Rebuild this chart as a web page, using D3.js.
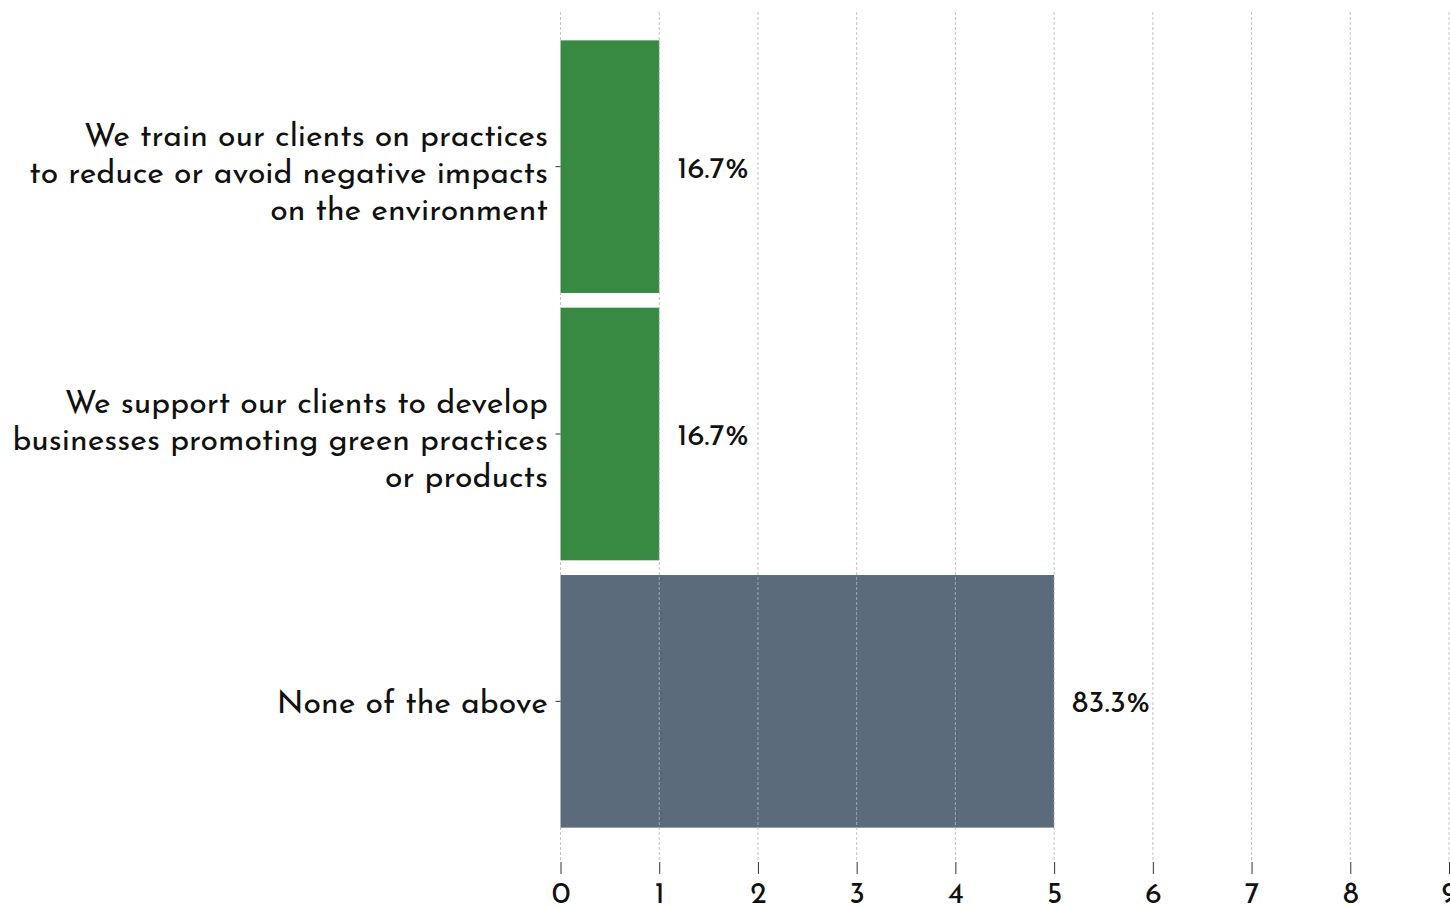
<!DOCTYPE html>
<html>
<head>
<meta charset="utf-8">
<script src="https://cdn.jsdelivr.net/npm/d3@7"></script>
<style>
  body { margin: 0; background: #fff; }
  svg { display: block; font-family: "Josefin Sans", Lato, "Noto Sans", sans-serif; }
</style>
</head>
<body>
<svg id="chart" width="1450" height="907"></svg>
<script>
// Survey answers: how respondents support clients on environmental practices
const categories = [
  ["We train our clients on practices", "to reduce or avoid negative impacts", "on the environment"],
  ["We support our clients to develop", "businesses promoting green practices", "or products"],
  ["None of the above"]
];
const counts = [1, 1, 5];
const percentLabels = ["16.7%", "16.7%", "83.3%"];
const barColors = ["#388a42", "#388a42", "#5c6b7c"];
const xTicks = [0, 1, 2, 3, 4, 5, 6, 7, 8, 9];

const svg = d3.select("#chart");
const ids = categories.map((_, i) => i);

const x = d3.scaleLinear().domain([0, 9]).range([560.5, 1449]);
const y = d3.scaleBand().domain(ids).range([33, 835]).paddingInner(0.055).paddingOuter(0.0275);
const axisY = 862;

// Bars
svg.append("g").selectAll("rect").data(ids).join("rect")
  .attr("x", x(0))
  .attr("y", i => y(i))
  .attr("width", i => x(counts[i]) - x(0))
  .attr("height", y.bandwidth())
  .attr("fill", i => barColors[i]);

// Vertical dashed gridlines, drawn above the bars
svg.append("g").selectAll("line").data(xTicks).join("line")
  .attr("x1", d => x(d)).attr("x2", d => x(d))
  .attr("y1", 12).attr("y2", axisY)
  .attr("stroke", "#b5b5b5")
  .attr("stroke-opacity", 0.8)
  .attr("stroke-width", 1)
  .attr("stroke-dasharray", "3,2");

// X axis
const xAxis = svg.append("g").attr("transform", `translate(0,${axisY})`)
  .call(d3.axisBottom(x).tickValues(xTicks).tickSize(12).tickPadding(8));
xAxis.select(".domain").remove();
xAxis.selectAll(".tick line").attr("stroke", "#333");
xAxis.selectAll(".tick text").attr("font-size", 30).attr("fill", "#111")
  .attr("font-family", "\"Josefin Sans\", Lato, \"Noto Sans\", sans-serif");

// Y axis tick marks
svg.append("g").selectAll("line").data(ids).join("line")
  .attr("x1", x(0) - 5).attr("x2", x(0))
  .attr("y1", i => y(i) + y.bandwidth() / 2)
  .attr("y2", i => y(i) + y.bandwidth() / 2)
  .attr("stroke", "#333");

// Category labels, multi-line, right-aligned
const lineH = 37;
svg.append("g").selectAll("text").data(ids).join("text")
  .attr("text-anchor", "end")
  .attr("font-size", 32)
  .attr("fill", "#111")
  .each(function(i) {
    const lines = categories[i];
    const shift = lines.length > 1 ? 5 : 0;
    const cy = y(i) + y.bandwidth() / 2 + shift;
    const t = d3.select(this);
    lines.forEach((ln, k) => {
      t.append("tspan")
        .attr("x", 548)
        .attr("y", cy + (k - (lines.length - 1) / 2) * lineH)
        .attr("dy", "0.35em")
        .text(ln);
    });
  });

// Value labels
svg.append("g").selectAll("text").data(ids).join("text")
  .attr("x", i => x(counts[i]) + 18)
  .attr("y", i => y(i) + y.bandwidth() / 2)
  .attr("dy", "0.35em")
  .attr("font-size", 31)
  .attr("fill", "#111")
  .text(i => percentLabels[i]);
</script>
</body>
</html>
